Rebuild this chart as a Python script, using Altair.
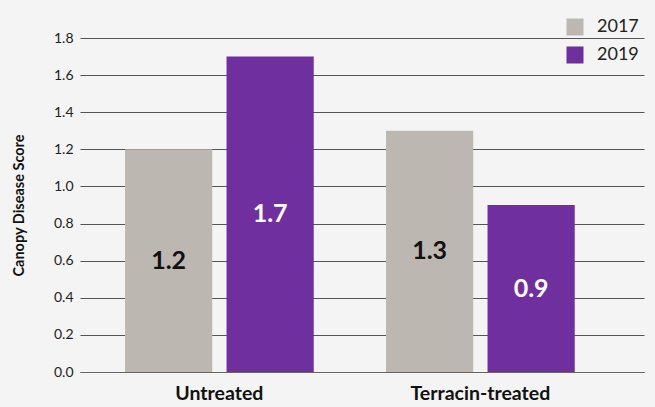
import altair as alt
import pandas as pd

categories = ["Untreated", "Untreated", "Terracin-treated", "Terracin-treated"]
years = ["2017", "2019", "2017", "2019"]
scores = [1.2, 1.7, 1.3, 0.9]
y_ticks = [0.0, 0.2, 0.4, 0.6, 0.8, 1.0, 1.2, 1.4, 1.6, 1.8]

df = pd.DataFrame({"group": categories, "year": years, "score": scores})

FONT = "Lato"
cat_order = ["Untreated", "Terracin-treated"]
Y_TITLE = "Canopy Disease Score"

x_axis = alt.Axis(
    labelAngle=0, labelFont=FONT, labelFontSize=19.5, labelFontWeight="bold",
    labelColor="#111", labelPadding=12, ticks=False, domain=True,
    domainColor="#666", domainWidth=1,
)
x_scale = alt.Scale(paddingInner=0.277, paddingOuter=0.219, align=0.394)
y_axis = alt.Axis(
    values=y_ticks, format=".1f", labelFont=FONT, labelFontSize=14,
    labelColor="#222", labelPadding=7, ticks=False, domain=False,
    labelOverlap=False, labelFlush=False,
    grid=True, gridColor="#555", gridWidth=1,
    titleFont=FONT, titleFontSize=14.5, titleFontWeight="bold",
    titleColor="#111", titleX=-61, titleY=167, titleAngle=270,
    titleAlign="center", titleBaseline="middle",
)
y_scale = alt.Scale(domain=[0, 1.8], nice=False)
xoff = alt.XOffset("year:N", scale=alt.Scale(paddingInner=0.141, paddingOuter=0))

bars = alt.Chart(df).mark_bar().encode(
    x=alt.X("group:N", sort=cat_order, title=None, scale=x_scale, axis=x_axis),
    xOffset=xoff,
    y=alt.Y("score:Q", title=Y_TITLE, scale=y_scale, axis=y_axis),
    color=alt.Color(
        "year:N",
        scale=alt.Scale(domain=["2017", "2019"], range=["#bcb8b1", "#6f2f9f"]),
        legend=alt.Legend(
            title=None, orient="none", legendX=486, legendY=-20,
            symbolType="square", symbolSize=289, symbolStrokeWidth=0,
            symbolOpacity=1, labelFont=FONT, labelFontSize=18,
            labelColor="#222", labelOffset=13, rowPadding=10, padding=0,
        ),
    ),
)

labels = alt.Chart(df).transform_calculate(
    mid="datum.score / 2"
).mark_text(
    font=FONT, fontSize=25, fontWeight="bold", baseline="middle", align="center"
).encode(
    x=alt.X("group:N", sort=cat_order, title=None, scale=x_scale, axis=x_axis),
    xOffset=xoff,
    y=alt.Y("mid:Q", title=Y_TITLE, scale=y_scale, axis=y_axis),
    text=alt.Text("score:Q", format=".1f"),
    fill=alt.condition("datum.year == '2017'", alt.value("#111"), alt.value("#ffffff")),
)

chart = alt.layer(bars, labels).properties(
    width=564,
    height=334,
    background="#f3f4f3",
    padding={"left": 80, "top": 38, "right": 11, "bottom": 35},
    autosize=alt.AutoSizeParams(type="none"),
).configure_view(stroke=None)

chart.save("out.html", embed_options={"renderer": "svg", "actions": False})
